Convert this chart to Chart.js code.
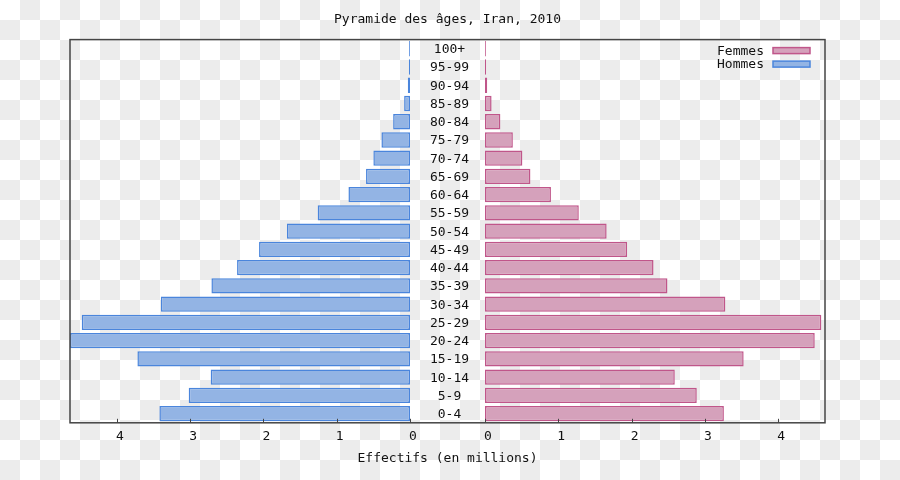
<!DOCTYPE html>
<html>
<head>
<meta charset="utf-8">
<script src="https://cdn.jsdelivr.net/npm/chart.js@4"></script>
<style>
  body {
    margin: 0;
    background: #fff repeating-conic-gradient(#ececec 0 25%, #fff 0 50%) 0 0 / 40px 40px;
  }
  canvas { display: block; }
</style>
</head>
<body>
<canvas id="chart" width="900" height="480"></canvas>
<script>
const ageGroups = ['100+', '95-99', '90-94', '85-89', '80-84', '75-79', '70-74', '65-69', '60-64', '55-59',
    '50-54', '45-49', '40-44', '35-39', '30-34', '25-29', '20-24', '15-19', '10-14', '5-9', '0-4']

// millions
const hommes = [0.012, 0.015, 0.03, 0.08, 0.23, 0.39, 0.50, 0.60, 0.84, 1.26,
    1.68, 2.06, 2.36, 2.71, 3.40, 4.48, 4.64, 3.72, 2.72, 3.02, 3.42]
const femmes = [0.012, 0.015, 0.03, 0.09, 0.21, 0.38, 0.51, 0.62, 0.90, 1.28,
    1.66, 1.94, 2.30, 2.49, 3.28, 4.59, 4.50, 3.53, 2.59, 2.89, 3.26]

const tickValues = [0, 1, 2, 3, 4]

const xMax = 4.64
const gap = 1.0235   // room for the age labels, in axis units
const font = { family: 'DejaVu Sans Mono', size: 13, weight: 'normal' }

const frame = {
    id: 'frame',
    afterDraw(chart) {
        const ctx = chart.ctx
        const a = chart.chartArea
        const x = chart.scales.x
        const y = chart.scales.y
        ctx.save()
        ctx.strokeStyle = '#444'
        ctx.lineWidth = 1.5
        ctx.strokeRect(a.left, a.top, a.right - a.left, a.bottom - a.top)

        // small ticks pointing inwards
        ctx.lineWidth = 1
        x.ticks.forEach(t => {
            const px = Math.round(x.getPixelForValue(t.value)) + 0.5
            ctx.beginPath()
            ctx.moveTo(px, a.bottom)
            ctx.lineTo(px, a.bottom - 4)
            ctx.stroke()
        })

        // age groups in the middle
        const mid = (x.getPixelForValue(0) + x.getPixelForValue(gap)) / 2 + 2
        ctx.font = '13px "DejaVu Sans Mono"'
        ctx.fillStyle = '#111'
        ctx.textAlign = 'center'
        ctx.textBaseline = 'middle'
        ageGroups.forEach((g, i) => ctx.fillText(g, mid, y.getPixelForValue(i) + 1))

        // legend, top right
        ctx.textAlign = 'right'
        chart.data.datasets.forEach((ds, i) => {
            const cy = a.top + 11 + i * 13.5
            ctx.fillStyle = '#111'
            ctx.fillText(ds.label, a.right - 61, cy + 1)
            ctx.fillStyle = ds.backgroundColor
            ctx.fillRect(a.right - 52, cy - 3, 37, 6)
            ctx.strokeStyle = ds.borderColor
            ctx.lineWidth = 1.5
            ctx.strokeRect(a.right - 52, cy - 3, 37, 6)
        })
        ctx.restore()
    }
}

new Chart(document.getElementById('chart'), {
    type: 'bar',
    data: {
        labels: ageGroups,
        datasets: [
            {
                label: 'Femmes',
                data: femmes.map(v => [gap, gap + v]),
                backgroundColor: '#d5a1bb',
                borderColor: '#c0568a',
                borderWidth: 1.5,
                borderSkipped: false,
                grouped: false,
                barPercentage: 0.84,
                categoryPercentage: 1
            },
            {
                label: 'Hommes',
                data: hommes.map(v => [-v, 0]),
                backgroundColor: '#93b4e4',
                borderColor: '#4a85dc',
                borderWidth: 1.5,
                borderSkipped: false,
                grouped: false,
                barPercentage: 0.84,
                categoryPercentage: 1
            }
        ]
    },
    options: {
        indexAxis: 'y',
        responsive: false,
        animation: false,
        layout: { padding: { left: 70, right: 75, top: 0, bottom: 14 } },
        scales: {
            y: {
                display: false,
                offset: true
            },
            x: {
                min: -xMax,
                max: xMax + gap,
                afterBuildTicks: (scale) => {
                    scale.ticks = tickValues.map(v => ({ value: -v })).reverse()
                        .concat(tickValues.map(v => ({ value: gap + v })))
                },
                grid: { display: false, drawTicks: false },
                border: { display: false },
                ticks: {
                    font: font,
                    color: '#111',
                    padding: 6,
                    labelOffset: 3,
                    maxRotation: 0,
                    autoSkip: false,
                    callback: (v) => v <= 0 ? String(Math.round(Math.abs(v))) : String(Math.round(v - gap))
                },
                title: {
                    display: true,
                    text: 'Effectifs (en millions)',
                    font: font,
                    color: '#111',
                    padding: { top: 0, bottom: 0 }
                }
            }
        },
        plugins: {
            legend: { display: false },
            tooltip: { enabled: false },
            title: {
                display: true,
                text: 'Pyramide des âges, Iran, 2010',
                font: font,
                color: '#111',
                padding: { top: 12, bottom: 12 }
            }
        }
    },
    plugins: [frame]
})
</script>
</body>
</html>
